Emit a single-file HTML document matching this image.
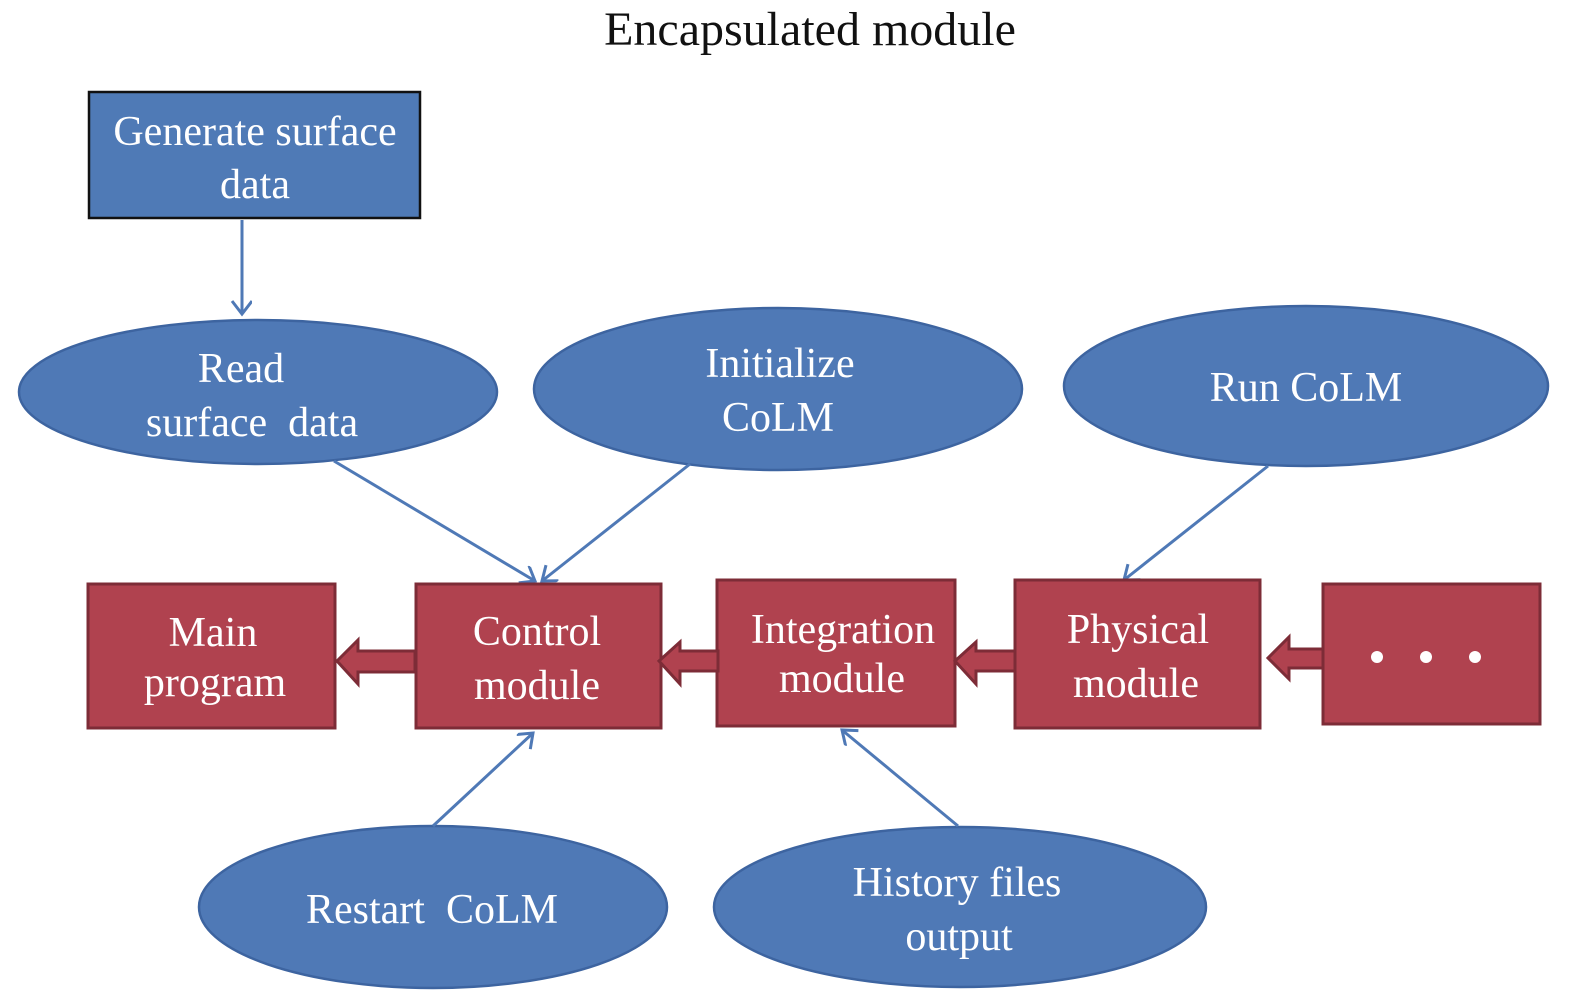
<!DOCTYPE html>
<html><head><meta charset="utf-8"><style>
html,body{margin:0;padding:0;background:#fff;}
svg{display:block;}
text{font-family:"Liberation Serif",serif;fill:#fff;text-anchor:middle;}
</style></head><body>
<svg width="1575" height="998" viewBox="0 0 1575 998" xmlns="http://www.w3.org/2000/svg">
<defs>
<marker id="ah" markerWidth="30" markerHeight="30" refX="15" refY="10" orient="auto" markerUnits="userSpaceOnUse" viewBox="0 0 30 30">
<path d="M2,0 L15,10 L2,20" fill="none" stroke="#4f79b6" stroke-width="3"/>
</marker>
</defs>
<text x="810" y="45" style="fill:#111;font-size:48px">Encapsulated module</text>

<!-- Generate box -->
<rect x="89" y="92" width="331" height="126" fill="#4f7ab6" stroke="#111" stroke-width="2.5"/>
<text x="255" y="145" style="font-size:42px">Generate surface</text>
<text x="255" y="198" style="font-size:42px">data</text>

<!-- ellipses -->
<g fill="#4f79b6" stroke="#3d64a0" stroke-width="2.5">
<ellipse cx="258" cy="392" rx="239" ry="72"/>
<ellipse cx="778" cy="389" rx="244" ry="81"/>
<ellipse cx="1306" cy="386" rx="242" ry="80"/>
<ellipse cx="433" cy="907" rx="234" ry="81"/>
<ellipse cx="960" cy="907" rx="246" ry="80"/>
</g>
<text x="241" y="382" style="font-size:42px">Read</text>
<text x="252" y="436" style="font-size:42px">surface&#160; data</text>
<text x="780" y="377" style="font-size:42px">Initialize</text>
<text x="778" y="431" style="font-size:42px">CoLM</text>
<text x="1306" y="401" style="font-size:42px">Run CoLM</text>
<text x="432" y="923" style="font-size:42px">Restart&#160; CoLM</text>
<text x="957" y="896" style="font-size:42px">History files</text>
<text x="959" y="950" style="font-size:42px">output</text>

<!-- connectors -->
<g stroke="#4f79b6" stroke-width="3" fill="none" marker-end="url(#ah)">
<line x1="242" y1="220" x2="242" y2="314"/>
<line x1="334" y1="461" x2="535" y2="581"/>
<line x1="690" y1="464" x2="542" y2="581"/>
<line x1="1268" y1="466" x2="1124" y2="580"/>
<line x1="433" y1="826" x2="533" y2="733"/>
<line x1="958" y1="826" x2="842" y2="730"/>
</g>

<!-- red boxes -->
<g fill="#b0424f" stroke="#7d2c37" stroke-width="3">
<rect x="88" y="584" width="247" height="144"/>
<rect x="416" y="584" width="245" height="144"/>
<rect x="717" y="580" width="238" height="146"/>
<rect x="1015" y="580" width="245" height="148"/>
<rect x="1323" y="584" width="217" height="140"/>
<!-- block arrows -->
<path d="M415,651 L358,651 L358,640 L337,661 L358,684 L358,672 L415,672 Z"/>
<path d="M718,651 L680,651 L680,642 L659,661 L680,684 L680,671 L718,671 Z"/>
<path d="M1015,651 L976,651 L976,642 L955,661 L976,684 L976,671 L1015,671 Z"/>
<path d="M1323,649 L1289,649 L1289,637 L1268,658 L1289,679 L1289,668 L1323,668 Z"/>
</g>
<text x="213" y="646" style="font-size:42px">Main</text>
<text x="215" y="696" style="font-size:42px">program</text>
<text x="537" y="645" style="font-size:42px">Control</text>
<text x="537" y="699" style="font-size:42px">module</text>
<text x="843" y="643" style="font-size:42px">Integration</text>
<text x="842" y="692" style="font-size:42px">module</text>
<text x="1138" y="643" style="font-size:42px">Physical</text>
<text x="1136" y="697" style="font-size:42px">module</text>
<g fill="#fff"><circle cx="1377" cy="657" r="6"/><circle cx="1426" cy="657" r="6"/><circle cx="1475" cy="657" r="6"/></g>
</svg>
</body></html>
